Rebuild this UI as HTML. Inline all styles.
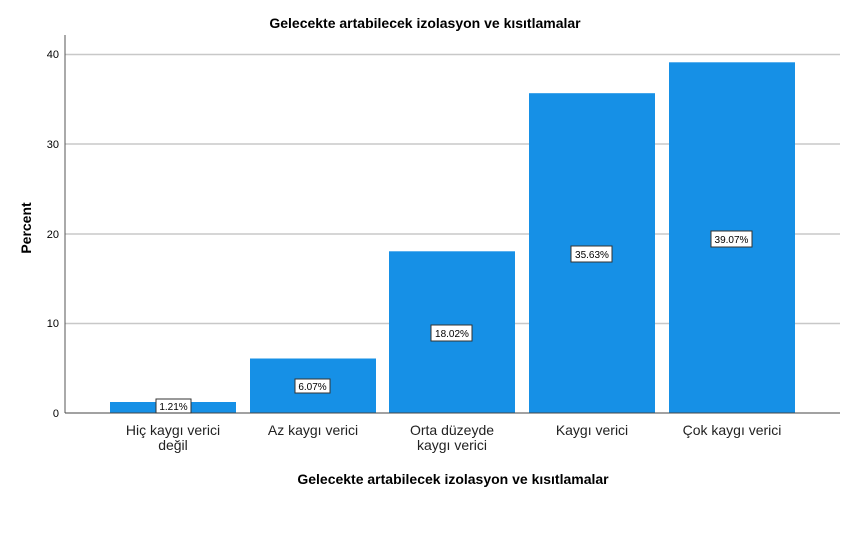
<!DOCTYPE html><html><head><style>body{margin:0;background:#fff}</style></head><body>
<svg width="849" height="551" xmlns="http://www.w3.org/2000/svg" font-family="Liberation Sans, Arial, sans-serif">
<rect width="849" height="551" fill="#fff"/>
<text x="425" y="28" text-anchor="middle" font-size="14" font-weight="bold">Gelecekte artabilecek izolasyon ve kısıtlamalar</text>
<g stroke="#c8c8c8" stroke-width="1.5">
<line x1="65" y1="54.5" x2="840" y2="54.5"/><line x1="65" y1="144" x2="840" y2="144"/><line x1="65" y1="234" x2="840" y2="234"/><line x1="65" y1="323.5" x2="840" y2="323.5"/></g>
<g fill="#1690e6">
<rect x="110" y="402" width="126" height="11"/>
<rect x="250" y="358.5" width="126" height="54.5"/>
<rect x="389" y="251.3" width="126" height="161.7"/>
<rect x="529" y="93.2" width="126" height="319.8"/>
<rect x="669" y="62.3" width="126" height="350.7"/></g>
<line x1="65" y1="35" x2="65" y2="413" stroke="#555" stroke-width="1"/>
<line x1="65" y1="413" x2="840" y2="413" stroke="#444" stroke-width="1"/>
<g font-size="11" text-anchor="end"><text x="59" y="58">40</text><text x="59" y="148">30</text><text x="59" y="238">20</text><text x="59" y="327">10</text><text x="59" y="417">0</text></g>
<text transform="translate(31,228) rotate(-90)" text-anchor="middle" font-size="14" font-weight="bold">Percent</text>
<g font-size="10" text-anchor="middle">
<rect x="156" y="399" width="35" height="14" fill="#fff" stroke="#333"/><text x="173.5" y="410">1.21%</text>
<rect x="295" y="379" width="35" height="14" fill="#fff" stroke="#333"/><text x="312.5" y="390">6.07%</text>
<rect x="431" y="325" width="41" height="16" fill="#fff" stroke="#333"/><text x="452" y="337">18.02%</text>
<rect x="571" y="246" width="41" height="16" fill="#fff" stroke="#333"/><text x="592" y="258">35.63%</text>
<rect x="711" y="231" width="41" height="16" fill="#fff" stroke="#333"/><text x="731.5" y="243">39.07%</text></g>
<g font-size="14" text-anchor="middle" fill="#222">
<text x="173" y="435">Hiç kaygı verici</text><text x="173" y="450">değil</text>
<text x="313" y="435">Az kaygı verici</text>
<text x="452" y="435">Orta düzeyde</text><text x="452" y="450">kaygı verici</text>
<text x="592" y="435">Kaygı verici</text>
<text x="732" y="435">Çok kaygı verici</text></g>
<text x="453" y="484" text-anchor="middle" font-size="14" font-weight="bold">Gelecekte artabilecek izolasyon ve kısıtlamalar</text>
</svg></body></html>
